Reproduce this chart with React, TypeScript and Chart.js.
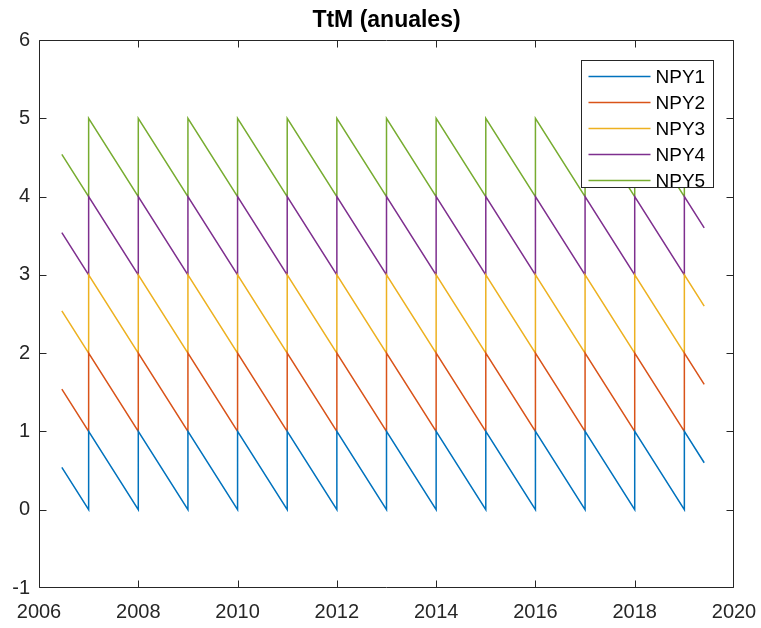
import React, { useEffect, useRef } from "react";
import { Chart, registerables } from "chart.js";

Chart.register(...registerables);

const titleText = "TtM (anuales)";

const dates = [
  2006.46,
  2007, 2007, 2008, 2008, 2009, 2009, 2010, 2010, 2011, 2011, 2012, 2012,
  2013, 2013, 2014, 2014, 2015, 2015, 2016, 2016, 2017, 2017, 2018, 2018,
  2019, 2019,
  2019.4,
];

const npy1 = [0.54, 0, 1, 0, 1, 0, 1, 0, 1, 0, 1, 0, 1, 0, 1, 0, 1, 0, 1, 0, 1, 0, 1, 0, 1, 0, 1, 0.6];
const npy2 = [1.54, 1, 2, 1, 2, 1, 2, 1, 2, 1, 2, 1, 2, 1, 2, 1, 2, 1, 2, 1, 2, 1, 2, 1, 2, 1, 2, 1.6];
const npy3 = [2.54, 2, 3, 2, 3, 2, 3, 2, 3, 2, 3, 2, 3, 2, 3, 2, 3, 2, 3, 2, 3, 2, 3, 2, 3, 2, 3, 2.6];
const npy4 = [3.54, 3, 4, 3, 4, 3, 4, 3, 4, 3, 4, 3, 4, 3, 4, 3, 4, 3, 4, 3, 4, 3, 4, 3, 4, 3, 4, 3.6];
const npy5 = [4.54, 4, 5, 4, 5, 4, 5, 4, 5, 4, 5, 4, 5, 4, 5, 4, 5, 4, 5, 4, 5, 4, 5, 4, 5, 4, 5, 4.6];

const seriesLabels = ["NPY1", "NPY2", "NPY3", "NPY4", "NPY5"];
const seriesValues = [npy1, npy2, npy3, npy4, npy5];
const seriesColors = ["#0072BD", "#D95319", "#EDB120", "#7E2F8E", "#77AC30"];

const xMin = 2006;
const xMax = 2020;
const xStep = 2;
const yMin = -1;
const yMax = 6;
const yStep = 1;

const FONT = "'Liberation Sans', Arial, Helvetica, sans-serif";
const AXIS_COLOR = "#262626";

const boxPlugin = {
  id: "matlabBox",
  afterDatasetsDraw(chart: any) {
    const { ctx, chartArea: a, scales } = chart;
    const L = Math.round(a.left) + 0.5;
    const R = Math.round(a.right) - 0.5;
    const T = Math.round(a.top) + 0.5;
    const B = Math.round(a.bottom) - 0.5;
    const tl = 7;
    ctx.save();

    // title centred over the axes
    ctx.fillStyle = "#000000";
    ctx.font = `bold 23px ${FONT}`;
    ctx.textAlign = "center";
    ctx.textBaseline = "alphabetic";
    ctx.fillText(titleText, (a.left + a.right) / 2, 27);

    // axes box with inward ticks
    ctx.strokeStyle = AXIS_COLOR;
    ctx.lineWidth = 1;
    ctx.beginPath();
    ctx.rect(L, T, R - L, B - T);
    const xs = scales.x;
    xs.ticks.forEach((t: any) => {
      const px = Math.min(Math.round(xs.getPixelForValue(t.value)) + 0.5, R);
      ctx.moveTo(px, B);
      ctx.lineTo(px, B - tl);
      ctx.moveTo(px, T);
      ctx.lineTo(px, T + tl);
    });
    const ys = scales.y;
    ys.ticks.forEach((t: any) => {
      const py = Math.min(Math.round(ys.getPixelForValue(t.value)) + 0.5, B);
      ctx.moveTo(L, py);
      ctx.lineTo(L + tl, py);
      ctx.moveTo(R, py);
      ctx.lineTo(R - tl, py);
    });
    ctx.stroke();

    // legend (inside the axes, top right)
    const lw = 132;
    const lh = 127;
    const lx = Math.round(a.right - 21 - lw) + 0.5;
    const ly = Math.round(a.top + 20) + 0.5;
    ctx.fillStyle = "#ffffff";
    ctx.fillRect(lx, ly, lw, lh);
    ctx.strokeStyle = AXIS_COLOR;
    ctx.strokeRect(lx, ly, lw, lh);
    ctx.font = `19px ${FONT}`;
    ctx.textBaseline = "middle";
    ctx.textAlign = "left";
    chart.data.datasets.forEach((ds: any, i: number) => {
      const cy = ly + 16 + i * 26;
      ctx.strokeStyle = ds.borderColor;
      ctx.lineWidth = 1.5;
      ctx.beginPath();
      ctx.moveTo(lx + 7, cy);
      ctx.lineTo(lx + 69, cy);
      ctx.stroke();
      ctx.fillStyle = "#000000";
      ctx.fillText(ds.label, lx + 74, cy + 1);
    });
    ctx.restore();
  },
};

export default function App() {
  const ref = useRef<HTMLCanvasElement | null>(null);

  useEffect(() => {
    const canvas = ref.current;
    if (!canvas) return;
    const datasets = seriesLabels.map((label, i) => ({
      label,
      data: dates.map((d, j) => ({ x: d, y: seriesValues[i][j] })),
      borderColor: seriesColors[i],
      backgroundColor: seriesColors[i],
      borderWidth: 1.5,
      pointRadius: 0,
      tension: 0,
      fill: false,
    }));
    const chart = new Chart(canvas, {
      type: "line",
      data: { datasets },
      options: {
        animation: false,
        responsive: false,
        maintainAspectRatio: false,
        devicePixelRatio: 1,
        layout: { padding: { left: 0, right: 27, top: 40, bottom: 0 } },
        plugins: {
          legend: { display: false },
          tooltip: { enabled: false },
          title: { display: false },
        },
        scales: {
          x: {
            type: "linear",
            min: xMin,
            max: xMax,
            grid: { display: false, drawTicks: true, tickLength: 10 },
            border: { display: false },
            ticks: {
              stepSize: xStep,
              autoSkip: false,
              maxRotation: 0,
              padding: 2,
              color: AXIS_COLOR,
              font: { family: FONT, size: 20 },
              callback: (v: any) => String(v),
            },
            afterFit: (s: any) => {
              s.height = 40;
            },
          },
          y: {
            type: "linear",
            min: yMin,
            max: yMax,
            grid: { display: false, drawTicks: false },
            border: { display: false },
            ticks: {
              stepSize: yStep,
              autoSkip: false,
              padding: 9,
              color: AXIS_COLOR,
              font: { family: FONT, size: 20 },
              callback: (v: any) => String(v),
            },
            afterFit: (s: any) => {
              s.width = 39;
            },
          },
        },
      },
      plugins: [boxPlugin],
    });
    return () => chart.destroy();
  }, []);

  return (
    <div style={{ position: "fixed", left: 0, top: 0, width: 761, height: 628, background: "#ffffff" }}>
      <canvas ref={ref} width={761} height={628} style={{ display: "block", width: 761, height: 628 }} />
    </div>
  );
}
